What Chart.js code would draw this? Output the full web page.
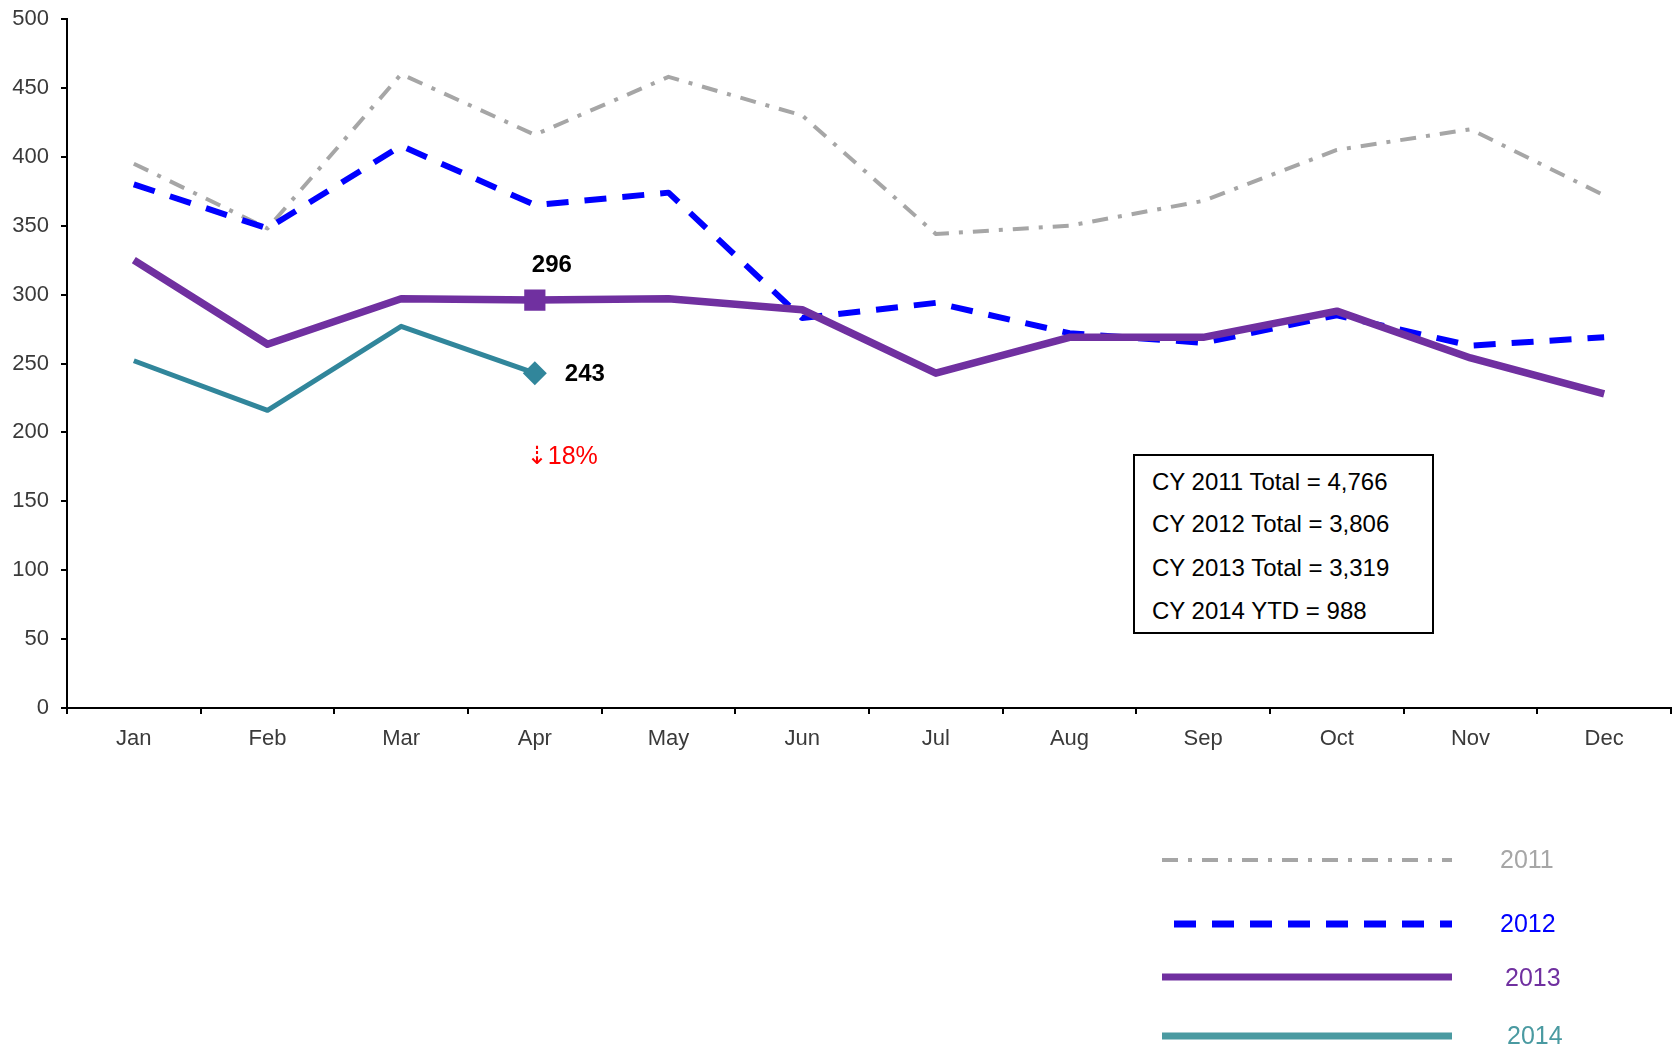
<!DOCTYPE html>
<html>
<head>
<meta charset="utf-8">
<title>Monthly totals 2011-2014</title>
<script src="https://cdn.jsdelivr.net/npm/chart.js@4.4.1/dist/chart.umd.min.js"></script>
<style>
  body { margin: 0; background: #fff; }
  #wrap { position: relative; width: 1675px; height: 1051px; }
  #chart { position: absolute; left: 0; top: 0; }
  .totals {
    position: absolute; left: 1133px; top: 454px; width: 301px; height: 180px;
    border: 2px solid #000; box-sizing: border-box; background: #fff;
    font: 24px "Liberation Sans", Arial, sans-serif; color: #000;
  }
  .totals div { position: absolute; left: 17px; line-height: 24px; white-space: nowrap; }
</style>
</head>
<body>
<div id="wrap">
  <canvas id="chart" width="1675" height="1051"></canvas>
  <div class="totals" id="totals"></div>
</div>
<script>
const months = ['Jan', 'Feb', 'Mar', 'Apr', 'May', 'Jun', 'Jul', 'Aug', 'Sep', 'Oct', 'Nov', 'Dec']
const y2011 = [395, 348, 460, 416, 458, 430, 344, 350, 368, 405, 420, 372]
const y2012 = [380, 348, 408, 365, 374, 283, 294, 272, 265, 285, 263, 269]
const y2013 = [325, 264, 297, 296, 297, 289, 243, 269, 269, 288, 254, 228]
const y2014 = [252, 216, 277, 243]
const totalLines = [
  'CY 2011 Total = 4,766',
  'CY 2012 Total = 3,806',
  'CY 2013 Total = 3,319',
  'CY 2014 YTD = 988'
]

// totals box (html text)
const box = document.getElementById('totals')
const lineTops = [14, 56, 100, 143]
totalLines.forEach((txt, i) => {
  const d = document.createElement('div')
  d.style.top = lineTops[i] + 'px'
  d.textContent = txt
  box.appendChild(d)
})

const FONT = '"Liberation Sans", Arial, sans-serif'
const lastIdx = y2014.length - 1

// point labels for the latest month + % change
const notesPlugin = {
  id: 'notes',
  afterDatasetsDraw(chart) {
    const { ctx, scales: { x, y } } = chart
    const px = x.getPixelForValue(lastIdx)
    const v13 = y2013[lastIdx]
    const v14 = y2014[lastIdx]
    ctx.save()
    ctx.fillStyle = '#000'
    ctx.font = 'bold 24px ' + FONT
    ctx.textBaseline = 'middle'
    ctx.textAlign = 'center'
    ctx.fillText(String(v13), px + 17, y.getPixelForValue(v13) - 35)
    ctx.fillText(String(v14), px + 50, y.getPixelForValue(v14) + 1)

    const pct = Math.round(Math.abs(v14 - v13) / v13 * 100)
    ctx.textAlign = 'left'
    ctx.fillStyle = '#ff0000'
    ctx.font = '25px "Liberation Sans", "DejaVu Sans", sans-serif'
    ctx.fillText('\u21E3' + pct + '%', px - 8, y.getPixelForValue(v14) + 84)
    ctx.restore()
  }
}

// legend drawn in the lower right, one row per year
const legendPlugin = {
  id: 'sideLegend',
  afterDraw(chart) {
    const { ctx } = chart
    const rows = [
      { y: 860, x0: 1162, w: 4, ty: 861, tx: 1500 },
      { y: 924, x0: 1174, w: 7, ty: 925, tx: 1500 },
      { y: 977, x0: 1162, w: 7, ty: 979, tx: 1505 },
      { y: 1036, x0: 1162, w: 7, ty: 1037, tx: 1507, color: '#4a9aa1' }
    ]
    chart.data.datasets.forEach((ds, i) => {
      const r = rows[i]
      const col = r.color || ds.borderColor
      ctx.save()
      ctx.strokeStyle = col
      ctx.lineWidth = r.w
      ctx.lineCap = 'butt'
      ctx.setLineDash(ds.borderDash || [])
      ctx.beginPath()
      ctx.moveTo(r.x0, r.y)
      ctx.lineTo(1452, r.y)
      ctx.stroke()
      ctx.setLineDash([])
      ctx.fillStyle = col
      ctx.font = '25px ' + FONT
      ctx.textBaseline = 'middle'
      ctx.textAlign = 'left'
      ctx.fillText(ds.label, r.tx, r.ty)
      ctx.restore()
    })
  }
}

const ctx = document.getElementById('chart').getContext('2d')

new Chart(ctx, {
  type: 'line',
  data: {
    labels: months,
    datasets: [
      {
        label: '2011', data: y2011, order: 4,
        borderColor: '#a6a6a6', borderWidth: 4,
        borderDash: [16, 10, 4, 10], pointRadius: 0
      },
      {
        label: '2012', data: y2012, order: 3,
        borderColor: '#0000ff', borderWidth: 6,
        borderDash: [22, 16], pointRadius: 0
      },
      {
        label: '2013', data: y2013, order: 2,
        borderColor: '#7030a0', backgroundColor: '#7030a0', borderWidth: 7.5,
        pointStyle: 'rect',
        pointRadius: y2013.map((_, i) => i === lastIdx ? 15 : 0),
        pointBorderWidth: 0
      },
      {
        label: '2014', data: y2014, order: 1,
        borderColor: '#31869b', backgroundColor: '#31869b', borderWidth: 5,
        pointStyle: 'rectRot',
        pointRadius: y2014.map((_, i) => i === lastIdx ? 12 : 0),
        pointBorderWidth: 0
      }
    ]
  },
  options: {
    responsive: false,
    animation: false,
    devicePixelRatio: 1,
    layout: { autoPadding: false, padding: { top: 19, right: 4, left: 0, bottom: 0 } },
    elements: { line: { tension: 0, borderJoinStyle: 'round' } },
    plugins: {
      legend: { display: false },
      tooltip: { enabled: false }
    },
    scales: {
      x: {
        offset: true,
        grid: { display: true, drawOnChartArea: false, offset: true, tickLength: 6, color: '#000', lineWidth: 2 },
        border: { display: true, color: '#000', width: 2 },
        ticks: { color: '#3a3a3a', font: { family: FONT, size: 22 }, padding: 12, maxRotation: 0 },
        afterFit: s => { s.height = 343; s.paddingLeft = 0; s.paddingRight = 0 }
      },
      y: {
        min: 0, max: 500,
        grid: { display: true, drawOnChartArea: false, tickLength: 6, color: '#000', lineWidth: 2 },
        border: { display: true, color: '#000', width: 2 },
        ticks: { stepSize: 50, color: '#3a3a3a', font: { family: FONT, size: 22 }, padding: 12 },
        afterFit: s => { s.width = 67; s.paddingTop = 0; s.paddingBottom = 0 }
      }
    }
  },
  plugins: [notesPlugin, legendPlugin]
})
</script>
</body>
</html>
